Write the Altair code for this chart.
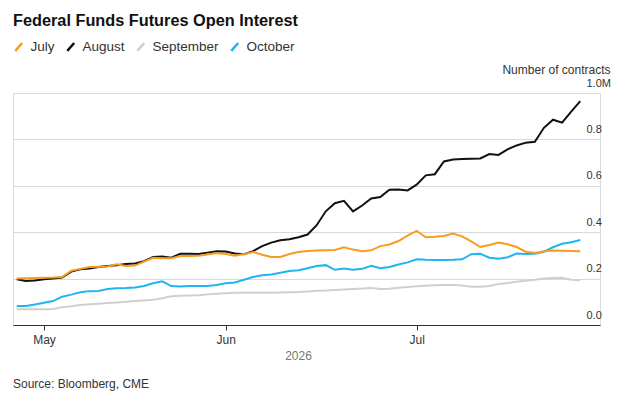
import altair as alt
import pandas as pd

FONT = "Liberation Sans"

chart_title = "Federal Funds Futures Open Interest"
source_note = "Source: Bloomberg, CME"
y_title = "Number of contracts"
year_label = "2026"
series_names = ["July", "August", "September", "October"]
series_colors = ["#f79d1e", "#111111", "#cfcfcf", "#1fb5ef"]
month_names = {5: "May", 6: "Jun", 7: "Jul"}
y_ticks = [0.0, 0.2, 0.4, 0.6, 0.8, 1.0]

# trading days (weekdays without US holidays)
holidays = ["2026-05-25", "2026-06-19", "2026-07-03"]
dates = [d for d in pd.bdate_range("2026-04-28", "2026-07-28")
         if d.strftime("%Y-%m-%d") not in holidays]

# open interest, millions of contracts
july = [0.200, 0.202, 0.203, 0.204, 0.205, 0.207, 0.234, 0.242, 0.250, 0.251,
        0.252, 0.262, 0.254, 0.256, 0.273, 0.290, 0.288, 0.288, 0.297, 0.297,
        0.298, 0.304, 0.310, 0.306, 0.299, 0.306, 0.315, 0.303, 0.293, 0.293,
        0.306, 0.315, 0.319, 0.321, 0.322, 0.323, 0.335, 0.325, 0.318, 0.322,
        0.340, 0.347, 0.362, 0.385, 0.406, 0.378, 0.380, 0.384, 0.394, 0.382,
        0.360, 0.336, 0.345, 0.355, 0.348, 0.336, 0.316, 0.310, 0.318, 0.321,
        0.320, 0.319, 0.318]
august = [0.197, 0.190, 0.192, 0.197, 0.200, 0.205, 0.230, 0.240, 0.244, 0.250,
          0.254, 0.258, 0.263, 0.265, 0.275, 0.293, 0.295, 0.290, 0.307, 0.307,
          0.306, 0.312, 0.318, 0.317, 0.308, 0.305, 0.318, 0.340, 0.355, 0.365,
          0.370, 0.378, 0.390, 0.430, 0.490, 0.525, 0.535, 0.490, 0.515, 0.545,
          0.552, 0.583, 0.584, 0.580, 0.605, 0.645, 0.650, 0.705, 0.713, 0.716,
          0.717, 0.718, 0.737, 0.733, 0.757, 0.774, 0.786, 0.790, 0.850, 0.885,
          0.872, 0.920, 0.965]
september = [0.068, 0.068, 0.068, 0.068, 0.069, 0.077, 0.081, 0.086, 0.089, 0.092,
             0.095, 0.097, 0.100, 0.103, 0.106, 0.109, 0.115, 0.124, 0.126, 0.127,
             0.128, 0.132, 0.135, 0.137, 0.139, 0.139, 0.139, 0.139, 0.139, 0.140,
             0.141, 0.142, 0.144, 0.148, 0.149, 0.151, 0.153, 0.155, 0.157, 0.160,
             0.155, 0.156, 0.161, 0.164, 0.167, 0.169, 0.171, 0.172, 0.172, 0.170,
             0.165, 0.165, 0.168, 0.177, 0.181, 0.186, 0.191, 0.195, 0.200, 0.203,
             0.204, 0.195, 0.193]
october = [0.082, 0.082, 0.088, 0.096, 0.103, 0.122, 0.131, 0.141, 0.146, 0.147,
           0.155, 0.158, 0.159, 0.162, 0.168, 0.180, 0.188, 0.168, 0.166, 0.168,
           0.168, 0.168, 0.172, 0.180, 0.183, 0.195, 0.207, 0.214, 0.218, 0.225,
           0.233, 0.236, 0.245, 0.254, 0.258, 0.238, 0.243, 0.238, 0.242, 0.255,
           0.245, 0.250, 0.261, 0.270, 0.283, 0.281, 0.280, 0.280, 0.281, 0.283,
           0.305, 0.307, 0.290, 0.286, 0.292, 0.308, 0.306, 0.307, 0.316, 0.335,
           0.350, 0.357, 0.366]

rows = []
for name, vals in zip(series_names, [july, august, september, october]):
    for i, v in enumerate(vals):
        rows.append({"idx": i, "date": dates[i].strftime("%Y-%m-%d"),
                     "series": name, "value": v})
df = pd.DataFrame(rows)

# first trading day of each month -> tick
tick_idx = []
tick_lbl = []
for m, lbl in month_names.items():
    for i, d in enumerate(dates):
        if d.month == m:
            tick_idx.append(i)
            tick_lbl.append(lbl)
            break
label_expr = "''"
for i, lbl in zip(tick_idx, tick_lbl):
    label_expr = f"datum.value == {i} ? '{lbl}' : ({label_expr})"

color = alt.Color(
    "series:N",
    scale=alt.Scale(domain=series_names, range=series_colors),
    legend=alt.Legend(
        orient="none", legendX=-1, legendY=-53, direction="horizontal",
        title=None, symbolType="M-0.8,0.9L0.8,-0.9", symbolSize=75,
        symbolStrokeWidth=2.5, labelFontSize=13.5, labelFont=FONT,
        labelColor="#333333", labelOffset=5, columnPadding=7,
    ),
)

x = alt.X(
    "idx:Q",
    scale=alt.Scale(domain=[-0.41, 64.17], nice=False, zero=False),
    axis=alt.Axis(
        values=tick_idx, labelExpr=label_expr, grid=False,
        domainColor="#333333", tickColor="#333333", tickSize=5,
        labelFontSize=12, labelColor="#333333", labelPadding=4,
        labelFont=FONT,
        title=year_label, titleFontSize=12, titleColor="#777777",
        titleFontWeight="normal", titleFont=FONT, titleX=285, titleY=30,
        titleAlign="center", titleBaseline="middle",
    ),
)

y = alt.Y(
    "value:Q",
    scale=alt.Scale(domain=[0, 1.0], nice=False),
    axis=alt.Axis(
        orient="right", values=y_ticks,
        labelExpr="datum.value == 1 ? '1.0M' : format(datum.value, '.1f')",
        ticks=False, domain=False, grid=True, gridColor="#d9d9d9",
        labelAlign="left", labelPadding=-14, labelBaseline="alphabetic",
        labelOffset=-7, labelFontSize=11, labelColor="#333333", labelFont=FONT,
        title=y_title, titleAngle=0, titleAlign="right",
        titleBaseline="alphabetic", titleX=10, titleY=-20, titleFontSize=12,
        titleFontWeight="normal", titleColor="#333333", titleFont=FONT,
    ),
)

layers = []
for name in ["September", "October", "August", "July"]:
    layers.append(
        alt.Chart(df).transform_filter(alt.datum.series == name)
        .mark_line(strokeWidth=2)
        .encode(x=x, y=y, color=color, detail="series:N")
    )

src = alt.Chart(pd.DataFrame({"t": [source_note]})).mark_text(
    align="left", baseline="middle", fontSize=12, font=FONT, color="#333333"
).encode(text="t:N", x=alt.value(0), y=alt.value(291))

chart = alt.layer(*layers, src).properties(
    width=587, height=232,
    title=alt.TitleParams(
        text=chart_title, anchor="start", frame="group", fontSize=16.3,
        fontWeight="bold", font=FONT, color="#111111", offset=0, dy=2,
        baseline="alphabetic",
    ),
    autosize=alt.AutoSizeParams(type="none"),
    padding={"left": 5, "top": 85, "right": 32, "bottom": 75},
).configure_view(stroke=None).configure(background="white")

chart.save("out.html", embed_options={"renderer": "svg", "actions": False})
